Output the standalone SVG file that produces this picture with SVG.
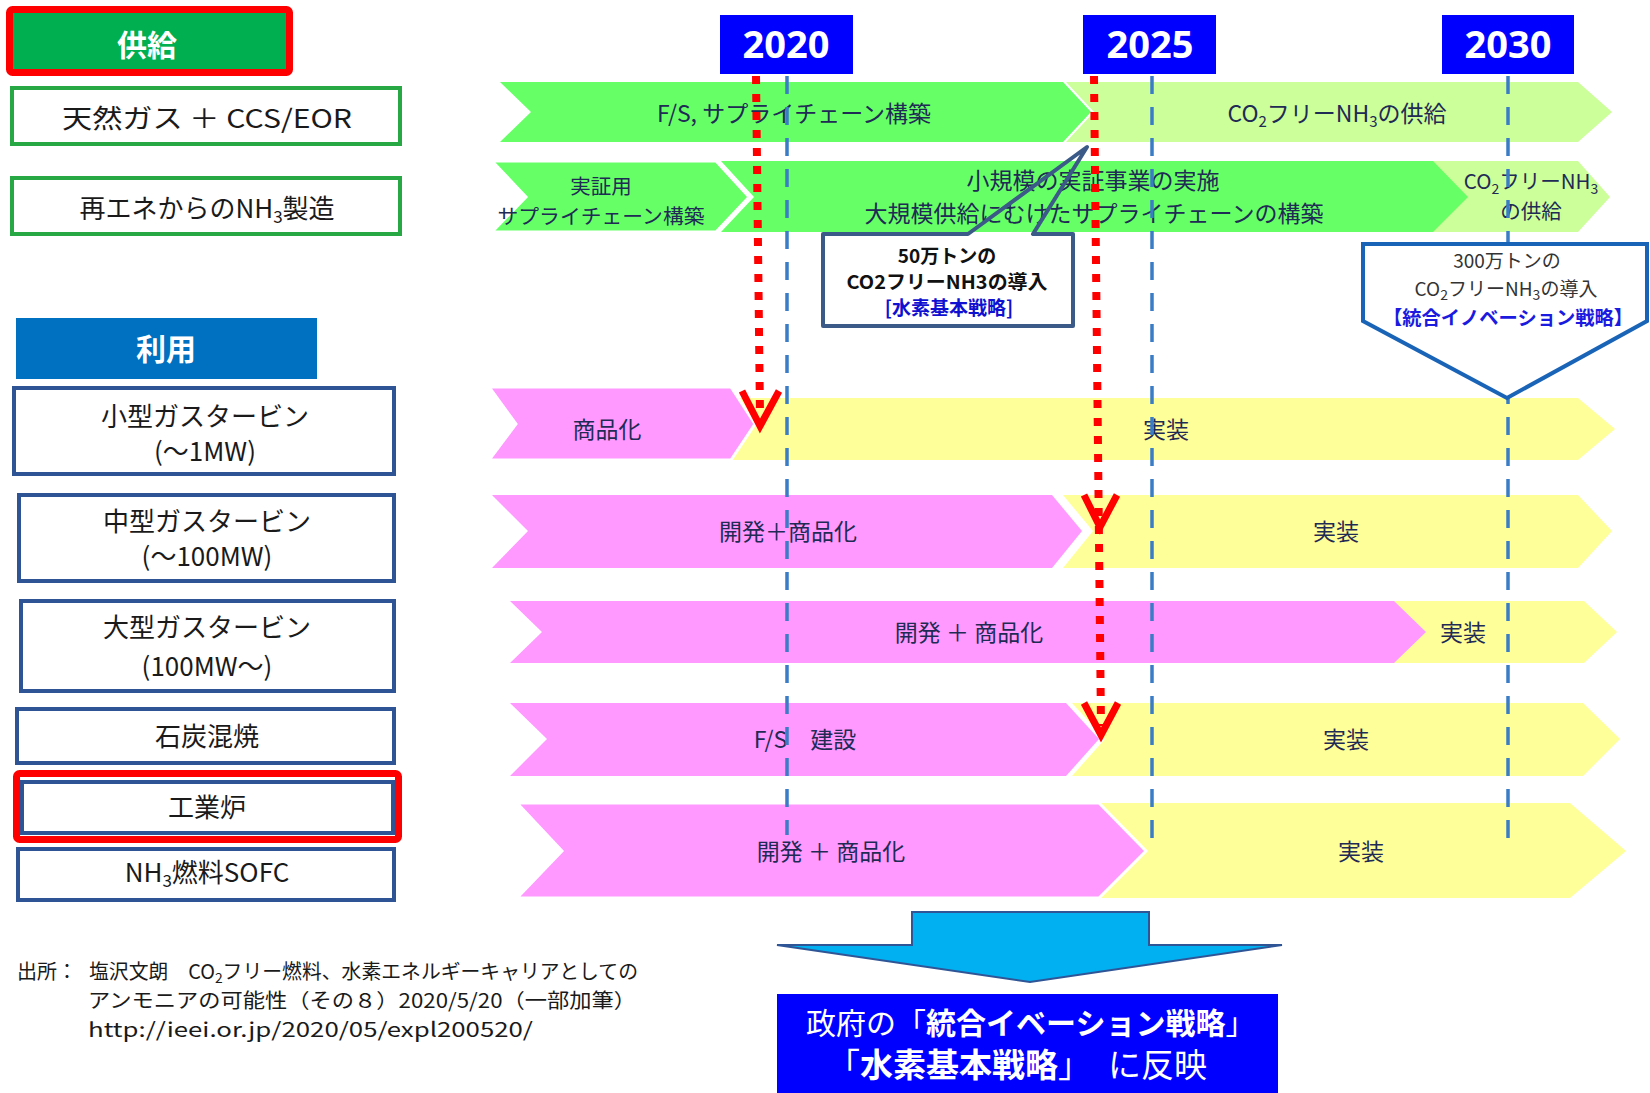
<svg xmlns="http://www.w3.org/2000/svg" width="1650" height="1093" viewBox="0 0 1650 1093">
<defs>
<style>
text{font-family:"Noto Sans CJK JP","Noto Sans",sans-serif;}
.lt{font-size:26px;fill:#1a1a1a;text-anchor:middle;}
.rt{font-size:23px;fill:#1f2a55;text-anchor:middle;}
.rs{font-size:20.5px;fill:#1f2a55;text-anchor:middle;}
.gbox{fill:#fff;stroke:#28a745;stroke-width:4;}
.bbox{fill:#fff;stroke:#2f5496;stroke-width:4;}
.yr{fill:#0000ff;}
.yt{font-family:"Noto Sans",sans-serif;font-weight:bold;font-size:38px;fill:#fff;text-anchor:middle;}
.hd{font-weight:bold;font-size:30px;fill:#fff;text-anchor:middle;}
.dg{fill:#66ff66}.lg{fill:#ccff99}.pk{fill:#ff99ff}.yl{fill:#ffff99}
.gap{stroke:#fff;stroke-width:3;stroke-linejoin:miter}
.bd{stroke:#3a7dc6;stroke-width:3.5;stroke-dasharray:18 13;fill:none}
.rd{stroke:#ff0000;stroke-width:8;stroke-dasharray:8 10;fill:none}
.rh{stroke:#ff0000;stroke-width:7;fill:none;stroke-linejoin:miter}
.ct{font-size:19px;text-anchor:middle;}
.fn{font-size:20px;fill:#1a1a1a;}
</style>
</defs>
<rect width="1650" height="1093" fill="#fff"/>

<!-- left column -->
<g id="supply-header">
<rect x="9.5" y="9.5" width="280" height="63" rx="3" fill="#00b050" stroke="#ff0000" stroke-width="7"/>
<text class="hd" x="147" y="56">供給</text>
</g>
<g id="natural-gas">
<rect class="gbox" x="12" y="88" width="388" height="56"/>
<text class="lt" x="207" y="128" textLength="290" lengthAdjust="spacingAndGlyphs">天然ガス ＋ CCS/EOR</text>
</g>
<g id="renewable-nh3">
<rect class="gbox" x="12" y="178" width="388" height="56"/>
<text class="lt" x="207" y="218">再エネからのNH<tspan font-size="17" dy="5">3</tspan><tspan dy="-5">製造</tspan></text>
</g>
<g id="use-header">
<rect x="16" y="318" width="301" height="61" fill="#0070c0"/>
<text class="hd" x="166" y="360">利用</text>
</g>
<g id="small-gt">
<rect class="bbox" x="14" y="388" width="380" height="86"/>
<text class="lt" x="205" y="426">小型ガスタービン</text>
<text class="lt" x="205" y="461">(～1MW)</text>
</g>
<g id="mid-gt">
<rect class="bbox" x="19" y="495" width="375" height="86"/>
<text class="lt" x="207" y="531">中型ガスタービン</text>
<text class="lt" x="207" y="566">(～100MW)</text>
</g>
<g id="large-gt">
<rect class="bbox" x="21" y="601" width="373" height="90"/>
<text class="lt" x="207" y="637">大型ガスタービン</text>
<text class="lt" x="207" y="676">(100MW～)</text>
</g>
<g id="coal">
<rect class="bbox" x="17" y="709" width="377" height="54"/>
<text class="lt" x="207" y="746">石炭混焼</text>
</g>
<g id="furnace">
<rect x="16.5" y="773.5" width="382" height="66" rx="3" fill="#fff" stroke="#ff0000" stroke-width="7"/>
<rect class="bbox" x="22" y="782" width="371" height="51"/>
<text class="lt" x="207" y="817">工業炉</text>
</g>
<g id="sofc">
<rect class="bbox" x="18" y="849" width="376" height="51"/>
<text class="lt" x="207" y="882">NH<tspan font-size="17" dy="5">3</tspan><tspan dy="-5">燃料SOFC</tspan></text>
</g>

<!-- year headers -->
<g id="y2020"><rect class="yr" x="720" y="15" width="133" height="59"/><text class="yt" x="786" y="58">2020</text></g>
<g id="y2025"><rect class="yr" x="1083" y="15" width="133" height="59"/><text class="yt" x="1150" y="58">2025</text></g>
<g id="y2030"><rect class="yr" x="1442" y="15" width="132" height="59"/><text class="yt" x="1508" y="58">2030</text></g>

<!-- row 1 -->
<g id="row1">
<polygon class="lg" points="1066,82 1578,82 1612,112 1578,142 1066,142 1094,112"/>
<polygon class="dg" points="500,82 1063,82 1091,112 1063,142 500,142 531,112"/>
<text class="rt" x="794" y="122">F/S, サプライチェーン構築</text>
<text class="rt" x="1337" y="122">CO<tspan font-size="15" dy="5">2</tspan><tspan dy="-5">フリーNH</tspan><tspan font-size="15" dy="5">3</tspan><tspan dy="-5">の供給</tspan></text>
</g>
<!-- row 2 -->
<g id="row2">
<polygon class="lg" points="1420,161 1578,161 1610,197 1578,232 1420,232"/>
<polygon class="dg" points="721,161 1433,161 1468,197 1433,232 721,232 754,197"/>
<polygon class="dg gap" points="492,161 716,161 749,197 716,232 492,232 526,197"/>
<text class="rs" x="601" y="194">実証用</text>
<text class="rs" x="601" y="224" textLength="207" lengthAdjust="spacingAndGlyphs">サプライチェーン構築</text>
<text class="rt" x="1093" y="189">小規模の実証事業の実施</text>
<text class="rt" x="1094" y="222">大規模供給にむけたサプライチェーンの構築</text>
<text class="rs" x="1531" y="189">CO<tspan font-size="14" dy="5">2</tspan><tspan dy="-5">フリーNH</tspan><tspan font-size="14" dy="5">3</tspan></text>
<text class="rs" x="1531" y="219">の供給</text>
</g>
<!-- row 3 -->
<g id="row3">
<polygon class="yl" points="728,398 1578,398 1615,429 1578,460 728,460"/>
<polygon class="pk gap" points="489,387 731,387 755,424 731,460 489,460 516,424"/>
<text class="rt" x="607" y="438">商品化</text>
<text class="rt" x="1166" y="438">実装</text>
</g>
<!-- row 4 -->
<g id="row4">
<polygon class="yl" points="1063,495 1578,495 1612,531 1578,568 1063,568 1093,531"/>
<polygon class="pk" points="492,495 1052,495 1082,531 1052,568 492,568 528,531"/>
<text class="rt" x="788" y="540">開発＋商品化</text>
<text class="rt" x="1336" y="540">実装</text>
</g>
<!-- row 5 -->
<g id="row5">
<polygon class="yl" points="1380,601 1584,601 1617,632 1584,663 1380,663"/>
<polygon class="pk" points="510,601 1394,601 1426,632 1394,663 510,663 542,632"/>
<text class="rt" x="969" y="641">開発 ＋ 商品化</text>
<text class="rt" x="1463" y="641">実装</text>
</g>
<!-- row 6 -->
<g id="row6">
<polygon class="yl" points="1072,703 1583,703 1620,739 1583,776 1072,776 1105,739"/>
<polygon class="pk" points="510,703 1066,703 1099,739 1066,776 510,776 547,739"/>
<text class="rt" x="805" y="748">F/S　建設</text>
<text class="rt" x="1346" y="748">実装</text>
</g>
<!-- row 7 -->
<g id="row7">
<polygon class="yl" points="1095,803 1570,803 1626,851 1570,898 1095,898"/>
<polygon class="pk gap" points="517,803 1099,803 1146,851 1099,898 517,898 562,851"/>
<text class="rt" x="831" y="860">開発 ＋ 商品化</text>
<text class="rt" x="1361" y="860">実装</text>
</g>

<!-- connectors -->
<g id="connectors">
<line class="bd" x1="787" y1="76" x2="787" y2="835"/>
<line class="bd" x1="1152" y1="76" x2="1152" y2="850"/>
<line class="bd" x1="1508" y1="76" x2="1508" y2="845"/>
<line class="rd" x1="756" y1="76" x2="760" y2="416"/>
<polyline class="rh" points="742,391 760,426 779,391"/>
<line class="rd" x1="1094" y1="76" x2="1101" y2="726"/>
<polyline class="rh" points="1084,495 1100,527 1117,495"/>
<polyline class="rh" points="1084,703 1101,735 1118,703"/>
<polygon id="down-arrow" points="912,912 1149,912 1149,945 1282,945 1030,982 777,945 912,945" fill="#00b0f0" stroke="#2f5597" stroke-width="2"/>
</g>

<!-- callouts -->
<g id="callout-50">
<rect x="823" y="234" width="250" height="92" fill="#fff"/>
<path d="M1033,234 L1073,234 L1073,326 L823,326 L823,234 L968,234 L1087,147 Z" fill="none" stroke="#3c5a88" stroke-width="4" stroke-linejoin="round"/>
<text class="ct" x="947" y="263" font-weight="bold" fill="#111">50万トンの</text>
<text class="ct" x="947" y="289" font-weight="bold" fill="#111" textLength="201" lengthAdjust="spacingAndGlyphs">CO2フリーNH3の導入</text>
<text class="ct" x="949" y="315" font-weight="bold" fill="#1010d0">[水素基本戦略]</text>
</g>
<g id="callout-300">
<polygon points="1363,244 1647,244 1647,321 1507,398 1363,321" fill="#fff" stroke="#1a64b8" stroke-width="4"/>
<text class="ct" x="1507" y="268" fill="#333">300万トンの</text>
<text class="ct" x="1506" y="296" fill="#333">CO<tspan font-size="14" dy="4">2</tspan><tspan dy="-4">フリーNH</tspan><tspan font-size="14" dy="4">3</tspan><tspan dy="-4">の導入</tspan></text>
<text class="ct" x="1508" y="325" font-weight="bold" fill="#1a1ae0" textLength="250" lengthAdjust="spacingAndGlyphs">【統合イノベーション戦略】</text>
</g>

<!-- result box -->
<g id="result">
<rect x="777" y="994" width="501" height="99" fill="#0000ff"/>
<text x="806" y="1034" font-size="30" fill="#fff">政府の「<tspan font-weight="bold">統合イベーション戦略</tspan>」</text>
<text y="1077" font-size="33" fill="#fff"><tspan x="827">「</tspan><tspan font-weight="bold">水素基本戦略</tspan>」<tspan x="1108">に反映</tspan></text>
</g>

<!-- source note -->
<g id="source">
<text class="fn" x="17" y="979">出所：</text>
<text class="fn" x="89" y="979" textLength="549" lengthAdjust="spacingAndGlyphs">塩沢文朗　CO<tspan font-size="14" dy="4">2</tspan><tspan dy="-4">フリー燃料、水素エネルギーキャリアとしての</tspan></text>
<text class="fn" x="88" y="1008" textLength="548" lengthAdjust="spacingAndGlyphs">アンモニアの可能性（その８）2020/5/20（一部加筆）</text>
<text class="fn" x="88" y="1037" textLength="445" lengthAdjust="spacingAndGlyphs">http://ieei.or.jp/2020/05/expl200520/</text>
</g>
</svg>
